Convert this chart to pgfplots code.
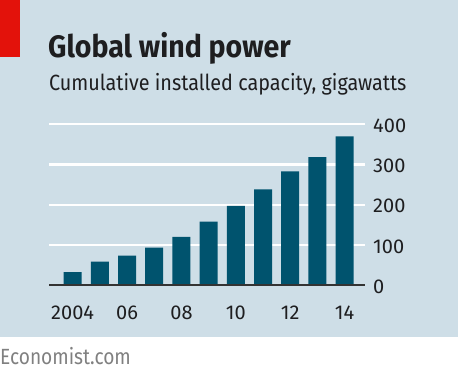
\documentclass[border=0pt]{standalone}
\usepackage{fontspec}
\setmainfont{Fira Sans}
\usepackage{graphicx}
\usepackage{pgfplots}
\pgfplotsset{compat=1.18}
\definecolor{bgblue}{RGB}{206,222,231}
\definecolor{barblue}{RGB}{0,83,110}
\definecolor{ecored}{RGB}{227,18,11}
\definecolor{txt}{RGB}{30,30,32}
\begin{document}
\begin{tikzpicture}[x=1bp,y=1bp]
\useasboundingbox (0,0) rectangle (458,376);
\fill[bgblue] (0,39) rectangle (458,376);
\fill[white] (0,0) rectangle (458,39);
\fill[ecored] (0,319) rectangle (20,376);
\node[anchor=base west, inner sep=0pt, text=txt] at (48,318.7)
  {\scalebox{0.92}[1]{\fontsize{31bp}{36bp}\selectfont\bfseries Global wind power}};
\node[anchor=base west, inner sep=0pt, text=txt] at (49,285.3)
  {\scalebox{0.9}[1]{\fontsize{22bp}{26bp}\selectfont Cumulative installed capacity, gigawatts}};
\node[anchor=base west, inner sep=0pt, text=black!50] at (0,12)
  {\scalebox{0.87}[1]{\fontsize{22bp}{26bp}\selectfont Economist.com}};
\begin{axis}[
  at={(49bp,91bp)}, anchor=south west,
  scale only axis, width=316bp, height=160.7bp,
  xmin=2003.13, xmax=2014.75, ymin=0, ymax=400,
  ybar, bar width=18bp,
  axis line style={draw=none},
  tick style={draw=none}, major tick length=0pt,
  ymajorgrids, grid style={white, line width=2.3bp},
  ytick={0,100,200,300,400},
  yticklabel pos=right,
  xtick={2004,2006,2008,2010,2012,2014},
  xticklabels={2004,06,08,10,12,14},
  /pgf/number format/assume math mode=true,
  /pgf/number format/1000 sep={},
  yticklabel style={anchor=west, inner sep=0pt, xshift=8bp, yshift=-1.5bp, font=\fontsize{20bp}{24bp}\selectfont, text=txt},
  xticklabel style={anchor=base, inner sep=0pt, yshift=-34bp, font=\fontsize{20bp}{24bp}\selectfont, text=txt},
  clip=false,
]
\addplot[fill=barblue, draw=none] coordinates {
  (2004,32) (2005,58) (2006,73) (2007,93) (2008,120) (2009,158)
  (2010,197) (2011,238) (2012,283) (2013,318) (2014,370)
};
\draw[line width=2bp, black!80] (rel axis cs:0,0) -- (rel axis cs:1,0);
\end{axis}
\end{tikzpicture}
\end{document}
